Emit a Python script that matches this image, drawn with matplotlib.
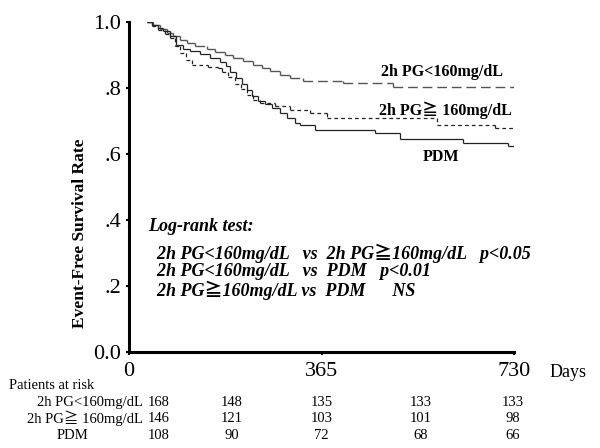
import numpy as np
import matplotlib
matplotlib.use('Agg')
import matplotlib.pyplot as plt
from matplotlib.collections import LineCollection
from matplotlib import transforms

# Kaplan-Meier step curves (days, event-free survival)
low_days = [34, 45, 59, 72, 83, 97, 110, 125, 148, 163, 182, 197, 216, 235, 252, 267, 286, 305, 330, 406, 501, 732]
low_surv = [1.0, 0.991, 0.979, 0.967, 0.958, 0.945, 0.936, 0.927, 0.918, 0.909, 0.900, 0.891, 0.882, 0.870,
            0.861, 0.852, 0.839, 0.830, 0.821, 0.815, 0.803, 0.803]

high_days = [34, 44, 55, 68, 78, 87, 97, 108, 119, 150, 169, 176, 188, 201, 212, 224, 235, 248, 277, 305,
             343, 375, 584, 694, 732]
high_surv = [1.0, 0.988, 0.976, 0.964, 0.952, 0.927, 0.906, 0.885, 0.870, 0.864, 0.861, 0.848, 0.833, 0.812,
             0.797, 0.779, 0.764, 0.755, 0.745, 0.733, 0.724, 0.709, 0.688, 0.679, 0.679]

pdm_days = [34, 44, 55, 64, 78, 89, 102, 116, 135, 154, 173, 184, 191, 203, 214, 224, 233, 245, 258, 271,
            286, 300, 315, 324, 353, 466, 514, 633, 719, 732]
pdm_surv = [1.0, 0.991, 0.982, 0.973, 0.958, 0.930, 0.918, 0.912, 0.903, 0.891, 0.879, 0.867, 0.848, 0.830,
            0.812, 0.794, 0.776, 0.761, 0.752, 0.739, 0.724, 0.709, 0.694, 0.688, 0.673, 0.664, 0.645, 0.633,
            0.624, 0.624]

# patients at risk table
risk_groups = ['2h PG<160mg/dL', '2h PG\u2267 160mg/dL', 'PDM']
risk_cols = [57, 195, 365, 553, 728]
risk_low = [168, 148, 135, 133, 133]
risk_high = [146, 121, 103, 101, 98]
risk_pdm = [108, 90, 72, 68, 66]

serif = ['Liberation Serif', 'Noto Sans CJK JP', 'DejaVu Serif']
plt.rcParams['font.family'] = serif


def step_segments(days, surv):
    # each horizontal and vertical piece as its own segment so the dash
    # pattern restarts on every step (short steps come out solid)
    segs = []
    for i in range(len(days) - 1):
        segs.append([(days[i], surv[i]), (days[i + 1], surv[i])])
        segs.append([(days[i + 1], surv[i]), (days[i + 1], surv[i + 1])])
    return segs


fig = plt.figure(figsize=(6, 4.48), dpi=100)
ax = fig.add_axes([0.215, 0.2143, 0.6417, 0.7366])

ax.add_collection(LineCollection(step_segments(low_days, low_surv), colors='#555555',
                                 linewidths=1.0, linestyles=[(0, (7, 3.5))]))
ax.add_collection(LineCollection(step_segments(high_days, high_surv), colors='#222222',
                                 linewidths=0.9, linestyles=[(0, (3, 2.5))]))
ax.add_collection(LineCollection(step_segments(pdm_days, pdm_surv), colors='#222222',
                                 linewidths=0.9, linestyles='solid'))

ax.set_xlim(0, 730)
ax.set_ylim(0, 1.0)
ax.spines['top'].set_visible(False)
ax.spines['right'].set_visible(False)
ax.spines['left'].set_linewidth(2.2)
ax.spines['bottom'].set_linewidth(2.2)

ax.set_yticks([0, 0.2, 0.4, 0.6, 0.8, 1.0])
ax.set_yticklabels(['0.0', '.2', '.4', '.6', '.8', '1.0'])
ax.set_xticks([0, 365, 730])
ax.set_xticklabels(['0', '365', '730'])
ax.tick_params(axis='both', length=2.5, width=1.5, labelsize=16, color='black')
ax.tick_params(axis='y', pad=3)
ax.tick_params(axis='x', pad=5)

ax.set_ylabel('Event-Free Survival Rate', fontsize=12.5, fontweight='bold')
ax.yaxis.set_label_coords(-0.106, 0.36)

fig.text(550 / 600, 1 - 372 / 448, 'Days', fontsize=13, ha='left', va='center')

# curve labels
ax.text(0.813, 0.848, '2h PG<160mg/dL', transform=ax.transAxes, fontsize=11.5,
        fontweight='bold', ha='center', va='center')
ax.text(0.823, 0.733, '2h PG\u2267 160mg/dL', transform=ax.transAxes, fontsize=11.5,
        fontweight='bold', ha='center', va='center')
ax.text(0.811, 0.591, 'PDM', transform=ax.transAxes, fontsize=11.5,
        fontweight='bold', ha='center', va='center')

# log-rank box
lr_lines = ['Log-rank test:',
            '  2h PG<160mg/dL   vs  2h PG\u2267160mg/dL   p<0.05',
            '  2h PG<160mg/dL   vs  PDM   p<0.01',
            '  2h PG\u2267160mg/dL vs  PDM      NS']
lr_y = [227, 253, 272, 290]
for line, py in zip(lr_lines, lr_y):
    ax.text(0.05, (352 - py) / 330, line, transform=ax.transAxes, fontsize=13,
            fontweight='bold', fontstyle='italic', ha='left', va='center')

# patients at risk
fig.text(9 / 600, 1 - 385 / 448, 'Patients at risk', fontsize=10.5, ha='left', va='center')
label_x = [143, 143, 57]
label_ha = ['right', 'right', 'left']
row_y = [402, 418, 435]
rows = [risk_low, risk_high, risk_pdm]
trans = transforms.blended_transform_factory(ax.transData, fig.transFigure)
for lab, lx, ha, ry, vals in zip(risk_groups, label_x, label_ha, row_y, rows):
    fig.text(lx / 600, 1 - ry / 448, lab, fontsize=10.5, ha=ha, va='center')
    for cx, v in zip(risk_cols, vals):
        ax.text(cx, 1 - ry / 448, str(v), transform=trans, fontsize=10.5,
                ha='center', va='center', clip_on=False)

fig.savefig('out.png', dpi=100)
